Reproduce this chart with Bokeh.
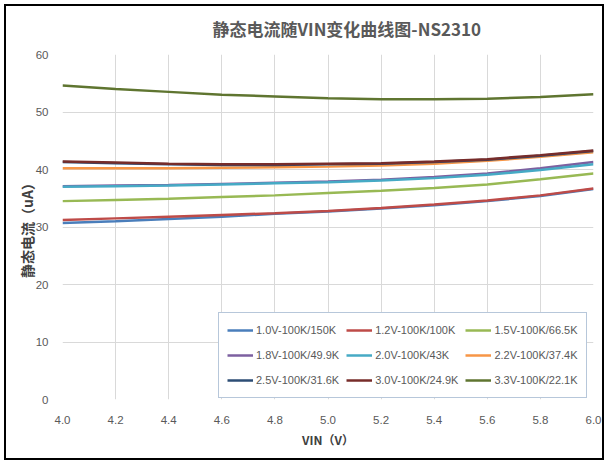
from bokeh.plotting import figure
from bokeh.models import Legend, LegendItem, Range1d, FixedTicker, InlineStyleSheet
from bokeh.embed import file_html
from bokeh.resources import INLINE

vin = [4.0, 4.2, 4.4, 4.6, 4.8, 5.0, 5.2, 5.4, 5.6, 5.8, 6.0]

labels = ["1.0V-100K/150K", "1.2V-100K/100K", "1.5V-100K/66.5K",
          "1.8V-100K/49.9K", "2.0V-100K/43K", "2.2V-100K/37.4K",
          "2.5V-100K/31.6K", "3.0V-100K/24.9K", "3.3V-100K/22.1K"]
colors = ["#4a7ebb", "#be4b48", "#98b954", "#7d60a0", "#46aac5",
          "#f79646", "#2c4d75", "#772c2a", "#5f7530"]

s_1v0 = [30.7, 31.0, 31.4, 31.8, 32.3, 32.7, 33.2, 33.8, 34.5, 35.4, 36.6]
s_1v2 = [31.2, 31.5, 31.8, 32.1, 32.4, 32.8, 33.3, 33.9, 34.6, 35.5, 36.7]
s_1v5 = [34.5, 34.7, 34.9, 35.2, 35.5, 35.9, 36.3, 36.8, 37.4, 38.3, 39.3]
s_1v8 = [37.1, 37.2, 37.3, 37.5, 37.7, 37.9, 38.2, 38.7, 39.3, 40.2, 41.3]
s_2v0 = [37.0, 37.1, 37.2, 37.4, 37.6, 37.8, 38.1, 38.5, 39.1, 39.9, 40.9]
s_2v2 = [40.2, 40.2, 40.2, 40.3, 40.4, 40.5, 40.7, 41.0, 41.5, 42.2, 43.0]
s_2v5 = [41.3, 41.1, 40.9, 40.8, 40.8, 40.9, 41.0, 41.3, 41.7, 42.4, 43.2]
s_3v0 = [41.4, 41.2, 41.0, 40.9, 40.9, 41.0, 41.1, 41.4, 41.8, 42.5, 43.3]
s_3v3 = [54.6, 54.0, 53.5, 53.0, 52.7, 52.4, 52.2, 52.2, 52.3, 52.6, 53.1]
series = [s_1v0, s_1v2, s_1v5, s_1v8, s_2v0, s_2v2, s_2v5, s_3v0, s_3v3]

x_ticks = vin
y_ticks = [0, 10, 20, 30, 40, 50, 60]

p = figure(width=606, height=461, output_backend="svg", toolbar_location=None,
           x_range=Range1d(4.0, 6.0), y_range=Range1d(0, 60),
           min_border_left=62, min_border_right=13, min_border_top=53,
           min_border_bottom=62, title="静态电流随VIN变化曲线图-NS2310")
p.background_fill_color = "white"
p.border_fill_color = "white"
p.outline_line_color = None

p.title.text_font = "Noto Sans CJK SC"
p.title.text_font_size = "17px"
p.title.text_font_style = "bold"
p.title.text_color = "#595959"
p.title.align = "left"
p.title.offset = 150
p.title.standoff = 27

cjk = "Noto Sans CJK SC"
num_font = "Liberation Sans"
for ax in (p.xaxis[0], p.yaxis[0]):
    ax.axis_line_color = None
    ax.major_tick_line_color = None
    ax.minor_tick_line_color = None
    ax.major_label_text_font = num_font
    ax.major_label_text_font_size = "11.5px"
    ax.major_label_text_color = "#595959"
    ax.axis_label_text_font = cjk
    ax.axis_label_text_font_style = "bold"
    ax.axis_label_text_color = "#404040"

p.xaxis.axis_label_text_font_size = "12px"
p.yaxis.axis_label_text_font_size = "14px"
p.xaxis.ticker = FixedTicker(ticks=x_ticks)
p.xaxis.major_label_overrides = {t: f"{t:.1f}" for t in x_ticks}
p.yaxis.ticker = FixedTicker(ticks=y_ticks)
p.xaxis.axis_label = "VIN（V）"
p.yaxis.axis_label = "静态电流（uA）"
p.xaxis.major_label_standoff = 10
p.xaxis.axis_label_standoff = 4
p.yaxis.major_label_standoff = 8
p.yaxis.axis_label_standoff = -4

p.xgrid.grid_line_color = "#d9d9d9"
p.ygrid.grid_line_color = "#d9d9d9"

items = []
for lab, col, ys in zip(labels, colors, series):
    r = p.line(vin, ys, line_color=col, line_width=2.5)
    items.append(LegendItem(label=lab, renderers=[r]))

# legend fills column by column; reorder so it reads row by row
order = [0, 3, 6, 1, 4, 7, 2, 5, 8]
legend = Legend(items=[items[i] for i in order], ncols=3, location=(156, 1),
                glyph_width=26, glyph_height=18, label_height=18,
                label_standoff=3, spacing=7, padding=8, margin=0,
                label_text_font=num_font, label_text_font_size="11px",
                label_text_color="#595959",
                border_line_color="#6f8fb5", border_line_width=1.2,
                background_fill_color="white", background_fill_alpha=1)
p.add_layout(legend, "center")

p.stylesheets = [InlineStyleSheet(css="""
:host { position: relative; }
:host::after {
  content: ""; position: absolute; left: 4px; top: 4px;
  width: 600px; height: 456px; box-sizing: border-box;
  border: 2px solid black; pointer-events: none; z-index: 10;
}
""")]

open("out.html", "w").write(file_html(p, INLINE))
